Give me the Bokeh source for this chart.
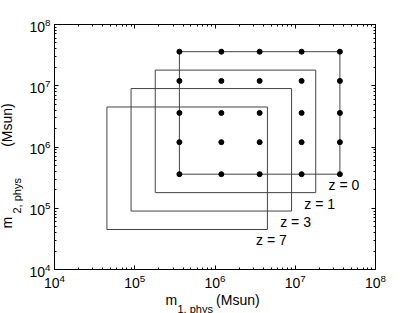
from bokeh.plotting import figure
from bokeh.models import LogAxis, LogTicker, Range1d, Title
from bokeh.core.properties import value
from bokeh.embed import file_html
from bokeh.resources import INLINE

# ---- data ----
z_labels = ["z = 0", "z = 1", "z = 3", "z = 7"]
box_lo = [3.6e5, 1.8e5, 9.0e4, 4.5e4]
box_hi = [3.6e7, 1.8e7, 9.0e6, 4.5e6]
m1_grid = [3.6e5, 1.2e6, 3.6e6, 1.2e7, 3.6e7]
m2_grid = [3.6e5, 1.2e6, 3.6e6, 1.2e7, 3.6e7]
axis_range = (1e4, 1e8)
NB = "\u00a0"
x_label_main = "m" + NB * 10 + "(Msun)"
x_label_sub = "1, phys"
y_label_main = "m" + NB * 18 + "(Msun)"
y_label_sub = "2, phys"

FONT = "Liberation Sans"

p = figure(width=400, height=313, x_axis_type="log", y_axis_type="log",
           x_range=Range1d(*axis_range), y_range=Range1d(*axis_range),
           output_backend="svg", toolbar_location=None,
           min_border_left=54, min_border_right=25,
           min_border_top=24, min_border_bottom=44)
p.xgrid.visible = False
p.ygrid.visible = False
p.outline_line_color = "black"
p.background_fill_color = "white"
p.border_fill_color = "white"

# rectangles
p.quad(left=box_lo, right=box_hi, bottom=box_lo, top=box_hi,
       fill_color=None, line_color="#444444", line_width=1)

# grid points
xs = [a for a in m1_grid for b in m2_grid]
ys = [b for a in m1_grid for b in m2_grid]
p.scatter(xs, ys, size=5, color="black")

# z labels
p.text(x=box_hi, y=box_lo, text=z_labels, x_offset=4, y_offset=3,
       text_align="center", text_baseline="top",
       text_font=value(FONT), text_font_size="14px", text_color="black")

# extra axes for ticks on top/right
p.add_layout(LogAxis(), "above")
p.add_layout(LogAxis(), "right")

for ax in p.axis:
    ax.ticker = LogTicker(mantissas=[1], num_minor_ticks=10)
    ax.axis_line_color = "black"
    ax.major_tick_line_color = "black"
    ax.minor_tick_line_color = "black"
    ax.major_tick_in = 4
    ax.major_tick_out = 0
    ax.minor_tick_in = 2
    ax.minor_tick_out = 0
    ax.major_label_text_font = FONT
    ax.major_label_text_font_size = "14px"
    ax.major_label_text_color = "black"
    ax.major_label_standoff = 4
    ax.axis_label = None

p.above[0].major_label_text_font_size = "0px"
p.above[0].major_label_text_color = None
p.right[0].major_label_text_font_size = "0px"
p.right[0].major_label_text_color = None


def title(text, size, offset, standoff):
    return Title(text=text, align="left", offset=offset, standoff=standoff,
                 text_font=FONT, text_font_size=size, text_font_style="normal",
                 text_color="black")


xaxis = p.below[0]
p.below = [xaxis,
           title(x_label_main, "14px", 111, -2),
           title(x_label_sub, "11px", 123, -16)]
yaxis = p.left[0]
p.left = [yaxis,
          title(y_label_sub, "11px", 56, 8),
          title(y_label_main, "14px", 41, -20)]

open("out.html", "w").write(file_html(p, INLINE))
